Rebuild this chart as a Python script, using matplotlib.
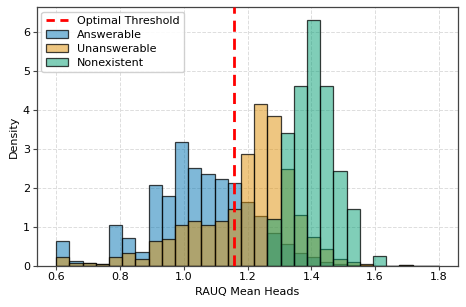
import numpy as np
import matplotlib
matplotlib.use("Agg")
import matplotlib.pyplot as plt
from matplotlib.patches import Patch
from matplotlib.lines import Line2D

# Histogram bins (shared by all series)
bin_start, bin_end, n_bins = 0.6, 1.8, 29

# Density per bin
answerable = [0.64, 0.12, 0.07, 0.04, 1.05, 0.71, 0.34, 2.06, 1.78, 3.18,
              2.51, 2.36, 2.23, 2.11, 1.62, 1.28, 0.83, 0.56, 0.33, 0.22,
              0.08, 0.04, 0.02, 0.02, 0.0, 0.0, 0.01, 0.0, 0.0]
unanswerable = [0.22, 0.06, 0.06, 0.03, 0.22, 0.31, 0.18, 0.63, 0.67, 1.05,
                1.15, 1.03, 1.15, 1.46, 2.86, 4.13, 3.83, 2.47, 1.29, 0.72,
                0.43, 0.17, 0.09, 0.05, 0.0, 0.0, 0.02, 0.0, 0.0]
nonexistent = [0.0, 0.0, 0.0, 0.0, 0.0, 0.0, 0.0, 0.0, 0.0, 0.0,
               0.0, 0.0, 0.0, 0.0, 0.0, 0.0, 1.20, 3.39, 4.61, 6.30,
               4.61, 2.43, 1.45, 0.0, 0.24, 0.0, 0.0, 0.0, 0.0]

series_names = ["Answerable", "Unanswerable", "Nonexistent"]
series_colors = ["#0173B2", "#DE8F05", "#029E73"]
threshold = 1.157

plt.rcParams['font.family'] = ['DejaVu Sans']
plt.rcParams['font.size'] = 8

fig = plt.figure(figsize=(4.66, 3.07), dpi=100)
ax = fig.add_axes([0.0794, 0.135, 0.9036, 0.841])

edges = np.linspace(bin_start, bin_end, n_bins + 1)
centers = edges[:-1]
handles = []
line = ax.axvline(threshold, color="red", linestyle="--", linewidth=2,
                  dashes=(4, 2.5), zorder=5)
handles.append(Line2D([0], [0], color="red", linestyle="--", linewidth=2,
                      dashes=(3, 2)))
for vals, name, col in zip([answerable, unanswerable, nonexistent],
                           series_names, series_colors):
    fc = matplotlib.colors.to_rgba(col, 0.5)
    ax.hist(centers, bins=edges, weights=vals, density=False,
            facecolor=fc, edgecolor=(0, 0, 0, 0.75), linewidth=0.9,
            histtype="bar", rwidth=1.0, zorder=2)
    handles.append(Patch(facecolor=fc, edgecolor=(0, 0, 0, 0.75),
                         linewidth=0.9))

ax.set_ylim(0, 6.62)
ax.set_xlim(0.54, 1.86)
ax.set_xticks([0.6, 0.8, 1.0, 1.2, 1.4, 1.6, 1.8])
ax.set_yticks(range(0, 7))
ax.grid(True, linestyle="--", color="#dddddd", linewidth=0.7)
ax.set_axisbelow(True)
ax.set_xlabel("RAUQ Mean Heads", labelpad=3)
ax.set_ylabel("Density", labelpad=3)
for s in ax.spines.values():
    s.set_color("#444444")
    s.set_linewidth(0.9)
ax.tick_params(length=3, width=0.8, color="#444444", pad=2)

ax.legend(handles, ["Optimal Threshold"] + series_names, loc="upper left",
          fontsize=8, frameon=True, framealpha=0.9, edgecolor="#cccccc",
          labelspacing=0.35, handlelength=2.0, borderpad=0.4,
          borderaxespad=0.4)

fig.savefig("out.png", dpi=100)
